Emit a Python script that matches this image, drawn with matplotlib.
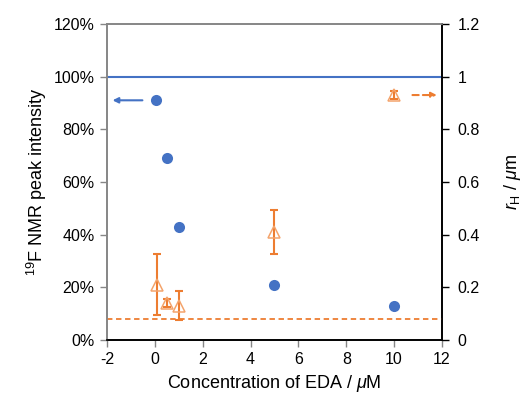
import matplotlib
matplotlib.use("Agg")
import matplotlib.pyplot as plt
from matplotlib.ticker import FuncFormatter

plt.rcParams['font.family'] = ['Liberation Sans', 'DejaVu Sans']
plt.rcParams['mathtext.fontset'] = 'custom'
plt.rcParams['mathtext.rm'] = 'Liberation Sans'
plt.rcParams['mathtext.it'] = 'Liberation Sans:italic'
plt.rcParams['axes.unicode_minus'] = False

# 19F NMR peak intensity (left axis)
conc_nmr = [0.05, 0.5, 1, 5, 10]
intensity = [91, 69, 43, 21, 13]

# hydrodynamic radius (right axis)
conc_rh = [0.1, 0.5, 1, 5, 10]
rh = [0.21, 0.14, 0.13, 0.41, 0.93]
rh_err = [0.115, 0.016, 0.055, 0.085, 0.015]

ref_intensity = 100
ref_rh = 0.08

blue = '#4472C4'
orange = '#ED7D31'
grey = '#868686'

fig = plt.figure(figsize=(5.24, 3.99), dpi=100)
ax = fig.add_axes([0.204, 0.148, 0.6395, 0.792])
ax2 = ax.twinx()

ax.axhline(ref_intensity, color=blue, lw=1.5, zorder=1)
ax.plot(conc_nmr, intensity, 'o', color=blue, ms=8, mec='none', zorder=3)

ax2.axhline(ref_rh, color=orange, lw=1.3, ls=(0, (3, 2)), zorder=1)
ax2.errorbar(conc_rh, rh, yerr=rh_err, fmt='none', ecolor=orange, elinewidth=1.5,
             capsize=3, capthick=1.5, zorder=2)
ax2.plot(conc_rh, rh, '^', ms=9, mfc='none', mec='#F4A46C', mew=1.1, zorder=3)

ax.set_xlim(-2, 12)
ax.set_xticks(range(-2, 13, 2))
ax.set_ylim(0, 120)
ax.set_yticks(range(0, 121, 20))
ax.yaxis.set_major_formatter(FuncFormatter(lambda v, p: f"{int(v)}%"))
ax2.set_ylim(0, 1.2)
ax2.set_yticks([0, 0.2, 0.4, 0.6, 0.8, 1.0, 1.2])
ax2.yaxis.set_major_formatter(FuncFormatter(lambda v, p: f"{v:g}"))

for a in (ax, ax2):
    a.spines['left'].set_color(grey)
    a.spines['top'].set_color(grey)
    a.spines['bottom'].set_color('black')
    a.spines['right'].set_color('black')
    for s in a.spines.values():
        s.set_linewidth(1.2)

ax.tick_params(axis='y', direction='out', length=5, width=1, color=grey, labelsize=11.5, pad=4)
ax.tick_params(axis='x', direction='out', length=5, width=1, color=grey, labelsize=11.5, pad=4)
ax2.tick_params(axis='y', direction='out', length=5, width=1, color='black', labelsize=11.5, pad=6)

ax.set_xlabel(r'Concentration of EDA / $\mathit{\mu}$M', fontsize=13, labelpad=4)
ax.set_ylabel(r'$^{19}$F NMR peak intensity', fontsize=13, labelpad=3)
ax2.set_ylabel(r'$\mathit{r}_\mathrm{H}$ / $\mathit{\mu}$m', fontsize=13, labelpad=16)

# axis indicator arrows
ax.annotate('', xy=(-1.88, 91), xytext=(-0.4, 91),
            arrowprops=dict(arrowstyle='-|>', color=blue, lw=1.5, mutation_scale=8))
ax2.annotate('', xy=(11.9, 0.93), xytext=(10.65, 0.93),
             arrowprops=dict(arrowstyle='-|>', color=orange, lw=1.5, ls=(0, (3, 2)),
                             mutation_scale=8))

fig.savefig('out.png', dpi=100)
